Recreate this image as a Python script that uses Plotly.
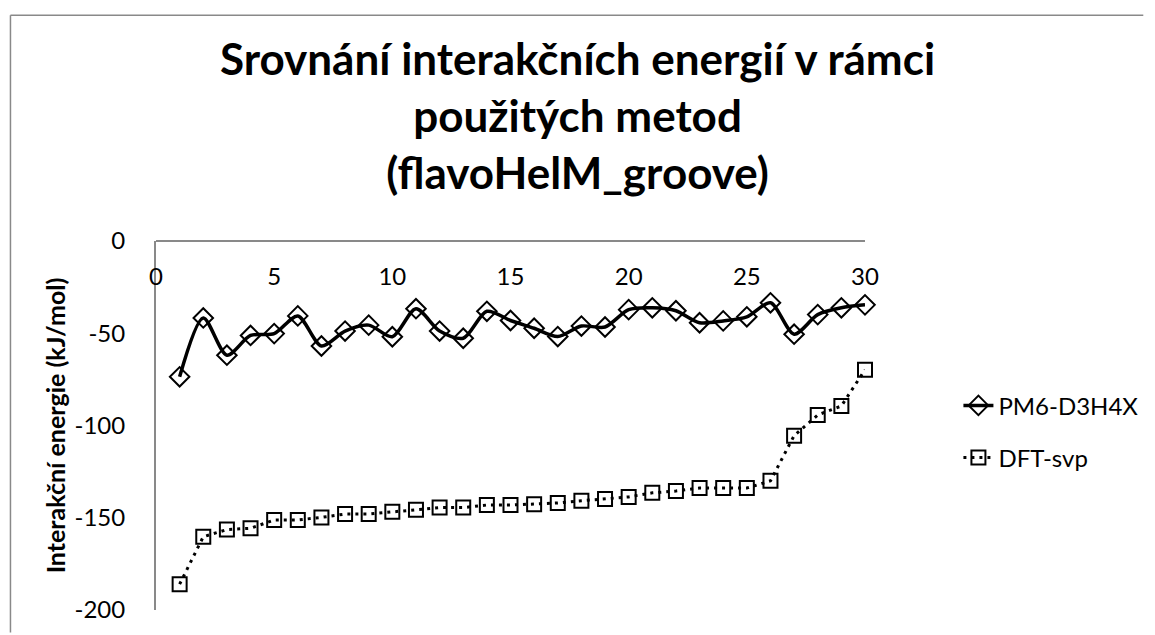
import plotly.graph_objects as go

# ---- data ----
x_idx = list(range(1, 31))
pm6_d3h4x = [-73.6, -41.7, -61.9, -51.2, -50.2, -40.6, -56.9, -48.8, -45.6, -51.9,
             -36.7, -48.8, -52.7, -38.1, -43.1, -47.3, -51.8, -46.1, -46.6, -37.2,
             -36.2, -37.8, -44.3, -43.3, -41.1, -33.5, -50.5, -39.9, -36.2, -34.6]
dft_svp = [-186.0, -160.3, -156.4, -155.7, -151.2, -151.2, -149.8, -148.0, -148.0, -146.8,
           -145.7, -144.5, -144.5, -143.1, -143.1, -142.7, -142.0, -140.8, -139.9, -138.7,
           -136.5, -135.5, -133.9, -133.9, -133.9, -130.0, -105.5, -94.3, -89.4, -69.8]
x_ticks = [0, 5, 10, 15, 20, 25, 30]
y_ticks = [0, -50, -100, -150, -200]
y_tick_labels = ["0", "-50", "-100", "-150", "-200"]
series_names = ["PM6-D3H4X", "DFT-svp"]
title_lines = ["Srovnání interakčních energií v rámci", "použitých metod", "(flavoHelM_groove)"]
y_title = "Interakční energie (kJ/mol)"

FONT = "Lato"
AXIS_GRAY = "#898989"

W, H = 1155, 635
L, R, T, B = 156, 278, 241, 18
pw, ph = W - L - R, H - T - B


def px_x(p):
    return (p - L) / pw


def px_y(p):
    return (H - B - p) / ph


fig = go.Figure()
fig.add_trace(go.Scatter(
    x=x_idx, y=pm6_d3h4x, name=series_names[0], mode="lines+markers",
    line=dict(color="black", width=3.5, shape="spline", smoothing=0.8),
    marker=dict(symbol="diamond-open", size=15, color="black", line=dict(width=2)),
    legendgroup="a", cliponaxis=False,
))
fig.add_trace(go.Scatter(
    x=x_idx, y=dft_svp, name=series_names[1], mode="lines+markers",
    line=dict(color="black", width=3, dash="3px,5px"),
    marker=dict(symbol="square-open", size=14, color="black", line=dict(width=2)),
    legendgroup="b", cliponaxis=False,
))

fig.update_layout(
    width=W, height=H,
    margin=dict(l=L, r=R, t=T, b=B, pad=0),
    paper_bgcolor="white", plot_bgcolor="white",
    font=dict(family=FONT, size=24, color="black"),
    showlegend=True,
    legend=dict(x=px_x(972), xanchor="left", y=px_y(386), yanchor="top",
                font=dict(family=FONT, size=24, color="black"),
                bgcolor="rgba(0,0,0,0)", tracegroupgap=18, itemwidth=30),
    xaxis=dict(range=[0, 30], tickvals=x_ticks, showgrid=False, zeroline=False,
               showline=True, linecolor=AXIS_GRAY, linewidth=2,
               anchor="free", position=1, side="bottom", ticks="",
               ticklabelstandoff=14, tickfont=dict(family=FONT, size=24)),
    yaxis=dict(range=[-200, 0], tickvals=y_ticks, ticktext=y_tick_labels,
               showgrid=False, zeroline=False,
               showline=True, linecolor=AXIS_GRAY, linewidth=2, ticks="",
               ticklabelstandoff=24, tickfont=dict(family=FONT, size=24),
               title=dict(text="<b>" + y_title + "</b>", standoff=2,
                          font=dict(family=FONT, size=25))),
)

fig.add_annotation(
    text="<b>" + "<br>".join(title_lines) + "</b>",
    xref="paper", yref="paper", x=px_x(585), y=px_y(113),
    xanchor="center", yanchor="middle", showarrow=False, align="center",
    font=dict(family=FONT, size=44, color="black"),
)

# chart-area frame: only the left and top edges fall inside the picture
fig.add_shape(type="line", xref="paper", yref="paper",
              x0=px_x(8), x1=px_x(8), y0=px_y(640), y1=px_y(11),
              line=dict(color=AXIS_GRAY, width=1.5), layer="below")
fig.add_shape(type="line", xref="paper", yref="paper",
              x0=px_x(8), x1=px_x(1160), y0=px_y(11), y1=px_y(11),
              line=dict(color=AXIS_GRAY, width=1.5), layer="below")

post = (
    "var s=document.createElement('style');"
    "s.textContent='html,body{margin:0!important;padding:0;overflow:hidden!important;}"
    "::-webkit-scrollbar{display:none;width:0;height:0;}';"
    "document.head.appendChild(s);"
)
fig.write_html("out.html", config={"displayModeBar": False}, post_script=post)
